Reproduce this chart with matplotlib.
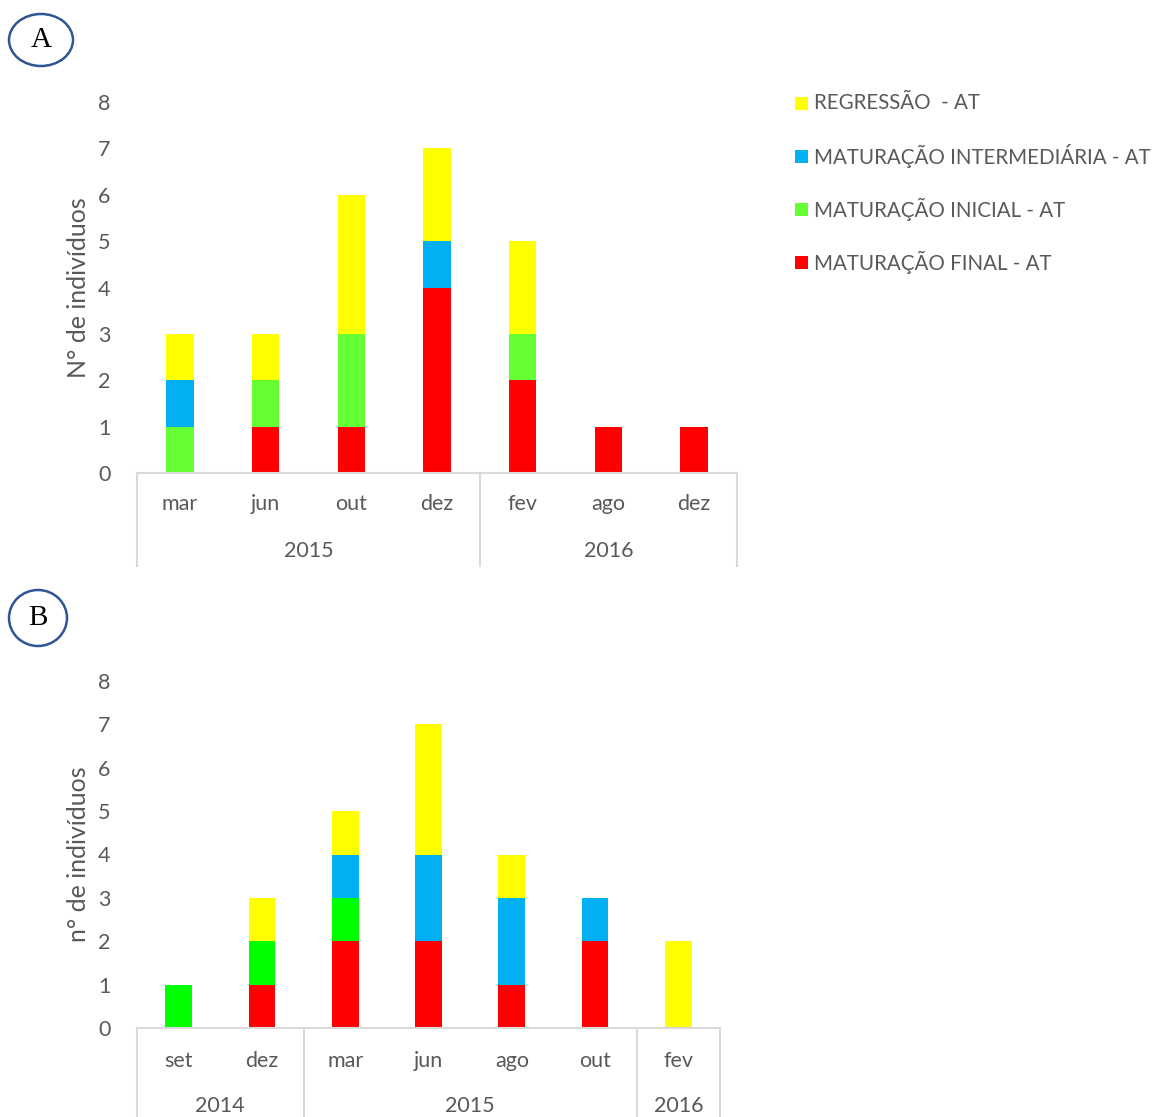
import matplotlib
matplotlib.use("Agg")
import matplotlib.pyplot as plt
from matplotlib.patches import Ellipse, Rectangle
from matplotlib.lines import Line2D
import numpy as np

plt.rcParams['font.family'] = ['Lato', 'DejaVu Sans']

# Panel A
months_a = ["mar", "jun", "out", "dez", "fev", "ago", "dez"]
years_a = ["2015", "2016"]
year_span_a = [4, 3]
final_a = [0, 1, 1, 4, 2, 1, 1]
inicial_a = [1, 1, 2, 0, 1, 0, 0]
interm_a = [1, 0, 0, 1, 0, 0, 0]
regress_a = [1, 1, 3, 2, 2, 0, 0]

# Panel B
months_b = ["set", "dez", "mar", "jun", "ago", "out", "fev"]
years_b = ["2014", "2015", "2016"]
year_span_b = [2, 4, 1]
final_b = [0, 1, 2, 2, 1, 2, 0]
inicial_b = [1, 1, 1, 0, 0, 0, 0]
interm_b = [0, 0, 1, 2, 2, 1, 0]
regress_b = [0, 1, 1, 3, 1, 0, 2]

legend_labels = ["REGRESSÃO  - AT", "MATURAÇÃO INTERMEDIÁRIA - AT",
                 "MATURAÇÃO INICIAL - AT", "MATURAÇÃO FINAL - AT"]

RED = "#FF0000"
BLUE = "#00B0F0"
YELLOW = "#FFFF00"
GREEN_A = "#66FF33"
GREEN_B = "#00FF00"
TXT = "#595959"
AXC = "#D9D9D9"

W, H = 1157, 1117
fig = plt.figure(figsize=(W / 100, H / 100), dpi=100)


def fx(px):
    return px / W


def fy(py):
    return 1 - py / H


def panel(rect, months, years, spans, series, colors, ylabel, month_y, year_y, bottom_px):
    ax = fig.add_axes(rect)
    n = len(months)
    x = np.arange(n)
    base = np.zeros(n)
    for vals, col in zip(series, colors):
        ax.bar(x, vals, bottom=base, width=0.32, color=col, linewidth=0, zorder=2)
        base = base + np.array(vals)
    ax.set_xlim(-0.5, n - 0.5)
    ax.set_ylim(0, 8)
    ax.set_yticks(range(9))
    ax.tick_params(axis='y', length=0, pad=19, labelsize=15.5, labelcolor=TXT)
    ax.set_xticks([])
    for s in ["top", "right", "left"]:
        ax.spines[s].set_visible(False)
    ax.spines["bottom"].set_color(AXC)
    ax.spines["bottom"].set_linewidth(1.5)
    ax.set_ylabel(ylabel, fontsize=18, color=TXT, labelpad=6)

    # Two-level category axis drawn beneath the plot
    trans = ax.get_xaxis_transform()
    ax_bottom_px = (1 - rect[1]) * H
    depth = (bottom_px - ax_bottom_px) / (rect[3] * H)
    for i, m in enumerate(months):
        ax.text(i, -(month_y - ax_bottom_px) / (rect[3] * H), m, transform=trans,
                ha="center", va="center", fontsize=15.5, color=TXT)
    edges = np.concatenate([[0], np.cumsum(spans)]) - 0.5
    for e in edges:
        ax.add_line(Line2D([e, e], [0, -depth], transform=trans, color=AXC,
                           linewidth=1.5, clip_on=False))
    for k, yr in enumerate(years):
        mid = (edges[k] + edges[k + 1]) / 2
        ax.text(mid, -(year_y - ax_bottom_px) / (rect[3] * H), yr, transform=trans,
                ha="center", va="center", fontsize=15.5, color=TXT)
    return ax


rect_a = [fx(137), fy(473), fx(737) - fx(137), fy(102) - fy(473)]
panel(rect_a, months_a, years_a, year_span_a,
      [final_a, inicial_a, interm_a, regress_a], [RED, GREEN_A, BLUE, YELLOW],
      "N° de indivíduos", 504, 551, 566)

rect_b = [fx(137), fy(1028), fx(720) - fx(137), fy(681) - fy(1028)]
panel(rect_b, months_b, years_b, year_span_b,
      [final_b, inicial_b, interm_b, regress_b], [RED, GREEN_B, BLUE, YELLOW],
      "n° de indivíduos", 1061, 1106, 1125)

# Legend
leg_colors = [YELLOW, BLUE, GREEN_A, RED]
for k, (lab, col) in enumerate(zip(legend_labels, leg_colors)):
    yc = 103 + k * 53
    fig.add_artist(Rectangle((fx(795), fy(yc + 7)), fx(13), fy(0) - fy(13),
                             transform=fig.transFigure, color=col, linewidth=0))
    fig.text(fx(814), fy(yc), lab, fontsize=14.8, color=TXT, ha="left", va="center")

# Panel markers
fig.add_artist(Ellipse((fx(41), fy(40)), fx(64), fy(0) - fy(52), transform=fig.transFigure,
                       facecolor="white", edgecolor="#2F5597", linewidth=1.8))
fig.text(fx(41), fy(40), "A", fontsize=21, family="Liberation Serif",
         ha="center", va="center", color="black")
fig.add_artist(Ellipse((fx(38), fy(618)), fx(58), fy(0) - fy(56), transform=fig.transFigure,
                       facecolor="white", edgecolor="#2F5597", linewidth=1.8))
fig.text(fx(38), fy(618), "B", fontsize=21, family="Liberation Serif",
         ha="center", va="center", color="black")

fig.savefig("out.png", dpi=100)
